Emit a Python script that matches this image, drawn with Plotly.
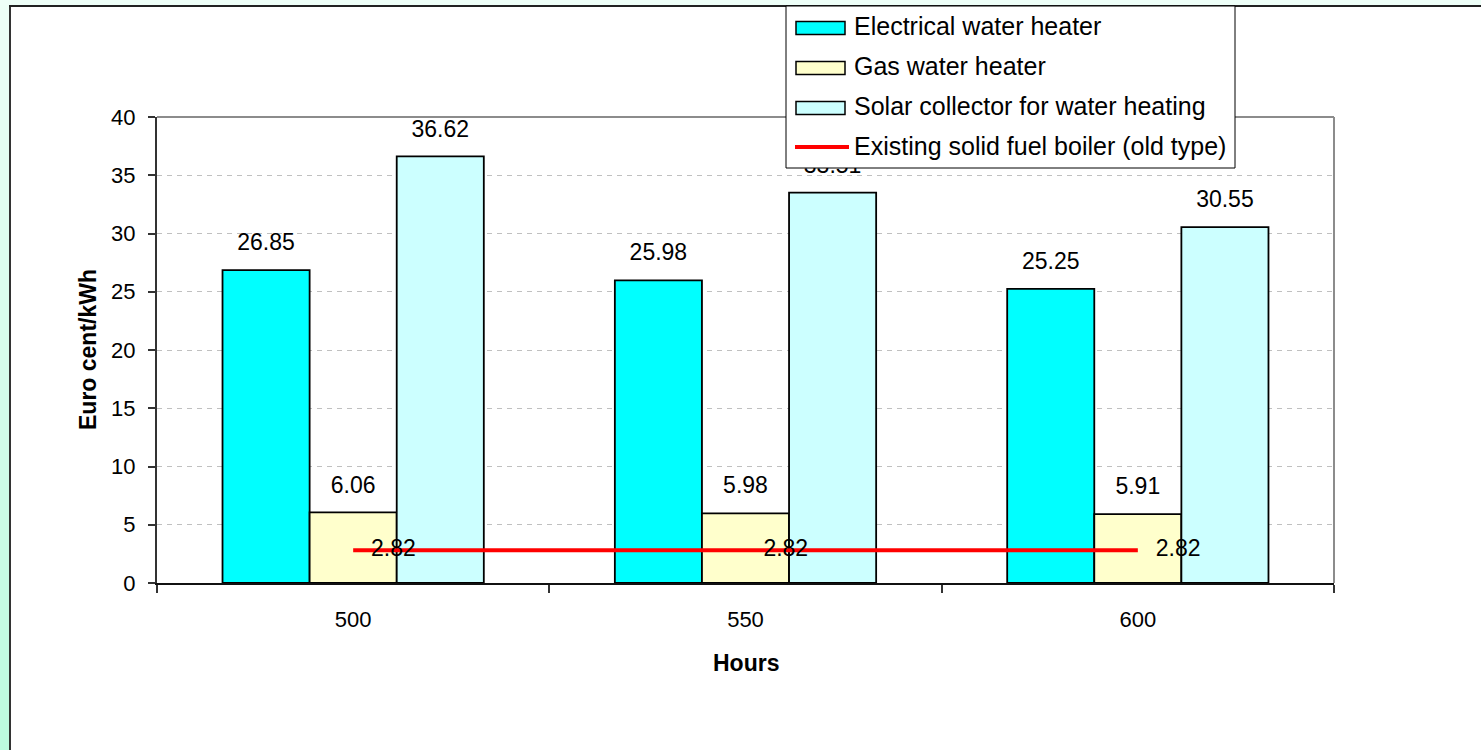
import plotly.graph_objects as go

# ---- data ----
hours = ["500", "550", "600"]
electrical = [26.85, 25.98, 25.25]
gas = [6.06, 5.98, 5.91]
solar = [36.62, 33.51, 30.55]
boiler = [2.82, 2.82, 2.82]

series_names = [
    "Electrical water heater",
    "Gas water heater",
    "Solar collector for water heating",
]
boiler_name = "Existing solid fuel boiler (old type)"
y_ticks = [0, 5, 10, 15, 20, 25, 30, 35, 40]

# ---- style ----
W, H = 1481, 750
L, R, T, B = 157, 147, 117, 167
PW, PH = W - L - R, H - T - B
bar_colors = ["#00FFFF", "#FFFFCC", "#CCFFFF"]
BAR_W = 0.222
FONT = "Liberation Sans, Arial, sans-serif"
LABEL_SIZE = 23
TICK_SIZE = 22
LEGEND_SIZE = 25
TITLE_SIZE = 23


def px(x):
    """pixel x -> paper x"""
    return (x - L) / PW


def py(y):
    """pixel y -> paper y"""
    return (H - B - y) / PH


fig = go.Figure()
idx = list(range(len(hours)))
all_series = [electrical, gas, solar]

# bars
for k, (name, vals, col) in enumerate(zip(series_names, all_series, bar_colors)):
    fig.add_trace(go.Bar(
        x=idx, y=vals, name=name, width=BAR_W, offset=(k - 1.5) * BAR_W,
        marker=dict(color=col, line=dict(color="black", width=1.8)),
        showlegend=False,
    ))

# boiler reference line
fig.add_trace(go.Scatter(
    x=idx, y=boiler, mode="lines", name=boiler_name,
    line=dict(color="#FF0000", width=4), showlegend=False,
))

# value labels above bars
for k, vals in enumerate(all_series):
    fig.add_trace(go.Scatter(
        x=[i + (k - 1) * BAR_W for i in idx], y=vals, mode="markers+text",
        text=[f"{v:.2f}" for v in vals], textposition="top center",
        textfont=dict(family=FONT, size=LABEL_SIZE, color="black"),
        marker=dict(size=21, color="rgba(0,0,0,0)"),
        showlegend=False, hoverinfo="skip",
    ))

# boiler labels
fig.add_trace(go.Scatter(
    x=idx, y=boiler, mode="markers+text",
    text=[f"{v:.2f}" for v in boiler], textposition="middle right",
    textfont=dict(family=FONT, size=LABEL_SIZE, color="black"),
    marker=dict(size=27, color="rgba(0,0,0,0)"),
    showlegend=False, hoverinfo="skip",
))

shapes = []
annotations = []

# page background strips (left gradient + top strip)
n_bands = 25
c_top = (238, 255, 248)
c_bot = (188, 250, 222)
for b in range(n_bands):
    t0 = b / n_bands
    t1 = (b + 1) / n_bands
    tm = (t0 + t1) / 2
    col = tuple(round(c_top[j] + (c_bot[j] - c_top[j]) * tm) for j in range(3))
    shapes.append(dict(
        type="rect", xref="paper", yref="paper",
        x0=px(0), x1=px(9), y0=py(t0 * H), y1=py(t1 * H),
        fillcolor="rgb(%d,%d,%d)" % col, line=dict(width=0), layer="above",
    ))
shapes.append(dict(type="rect", xref="paper", yref="paper",
                   x0=px(0), x1=px(W), y0=py(0), y1=py(5),
                   fillcolor="rgb(238,255,248)", line=dict(width=0), layer="above"))
# chart frame
shapes.append(dict(type="line", xref="paper", yref="paper",
                   x0=px(10), x1=px(10), y0=py(5), y1=py(H),
                   line=dict(color="#333333", width=2), layer="above"))
shapes.append(dict(type="line", xref="paper", yref="paper",
                   x0=px(9), x1=px(W), y0=py(6), y1=py(6),
                   line=dict(color="#222222", width=2), layer="above"))

# plot area border (top / right)
shapes.append(dict(type="line", xref="paper", yref="paper", x0=0, x1=1, y0=1, y1=1,
                   line=dict(color="#8c8c8c", width=2), layer="above"))
shapes.append(dict(type="line", xref="paper", yref="paper", x0=1, x1=1, y0=0, y1=1,
                   line=dict(color="#8c8c8c", width=2), layer="above"))

# legend box
leg_x0, leg_x1, leg_y0, leg_y1 = 786, 1235, 6, 168
shapes.append(dict(type="rect", xref="paper", yref="paper",
                   x0=px(leg_x0), x1=px(leg_x1), y0=py(leg_y1), y1=py(leg_y0),
                   fillcolor="white", line=dict(color="black", width=1), layer="above"))
legend_rows = [28, 68, 108, 147]
for name, col, yc in zip(series_names, bar_colors, legend_rows):
    shapes.append(dict(type="rect", xref="paper", yref="paper",
                       x0=px(796), x1=px(845), y0=py(yc + 6.5), y1=py(yc - 6.5),
                       fillcolor=col, line=dict(color="black", width=1.5), layer="above"))
    annotations.append(dict(text=name, xref="paper", yref="paper", x=px(852), y=py(yc - 2),
                            xanchor="left", yanchor="middle", showarrow=False,
                            font=dict(family=FONT, size=LEGEND_SIZE, color="black")))
shapes.append(dict(type="line", xref="paper", yref="paper",
                   x0=px(795), x1=px(849), y0=py(legend_rows[3]), y1=py(legend_rows[3]),
                   line=dict(color="#FF0000", width=4), layer="above"))
annotations.append(dict(text=boiler_name, xref="paper", yref="paper", x=px(852),
                        y=py(legend_rows[3] - 1), xanchor="left", yanchor="middle",
                        showarrow=False, font=dict(family=FONT, size=LEGEND_SIZE, color="black")))

# axis titles
annotations.append(dict(text="<b>Euro cent/kWh</b>", xref="paper", yref="paper",
                        x=px(88), y=0.5, textangle=-90, showarrow=False,
                        xanchor="center", yanchor="middle",
                        font=dict(family=FONT, size=TITLE_SIZE, color="black")))
annotations.append(dict(text="<b>Hours</b>", xref="paper", yref="paper",
                        x=0.5, y=py(663), showarrow=False,
                        xanchor="center", yanchor="middle",
                        font=dict(family=FONT, size=TITLE_SIZE, color="black")))

fig.update_layout(
    width=W, height=H,
    margin=dict(l=L, r=R, t=T, b=B, autoexpand=False),
    paper_bgcolor="white", plot_bgcolor="white",
    barmode="group",
    showlegend=False,
    font=dict(family=FONT, size=TICK_SIZE, color="black"),
    shapes=shapes, annotations=annotations,
    xaxis=dict(
        range=[-0.5, 2.5], tickmode="array", tickvals=idx, ticktext=hours,
        ticks="outside", ticklen=16, tickcolor="rgba(0,0,0,0)",
        showline=True, linecolor="#111111", linewidth=2,
        showgrid=False, zeroline=False,
        tickfont=dict(family=FONT, size=TICK_SIZE, color="black"),
        minor=dict(tickmode="array", tickvals=[-0.5, 0.5, 1.5, 2.5],
                   ticks="outside", ticklen=8, tickcolor="#333333", tickwidth=1.5,
                   showgrid=False),
        fixedrange=True,
    ),
    yaxis=dict(
        range=[0, 40], tickmode="array", tickvals=y_ticks,
        ticks="outside", ticklen=7, tickcolor="#333333", tickwidth=1.5,
        ticklabelstandoff=8,
        showline=True, linecolor="#333333", linewidth=2,
        showgrid=True, gridcolor="#c0c0c0", gridwidth=1, griddash="5px,5px",
        zeroline=False,
        tickfont=dict(family=FONT, size=TICK_SIZE, color="black"),
        fixedrange=True,
    ),
)

fig.write_html("out.html")
